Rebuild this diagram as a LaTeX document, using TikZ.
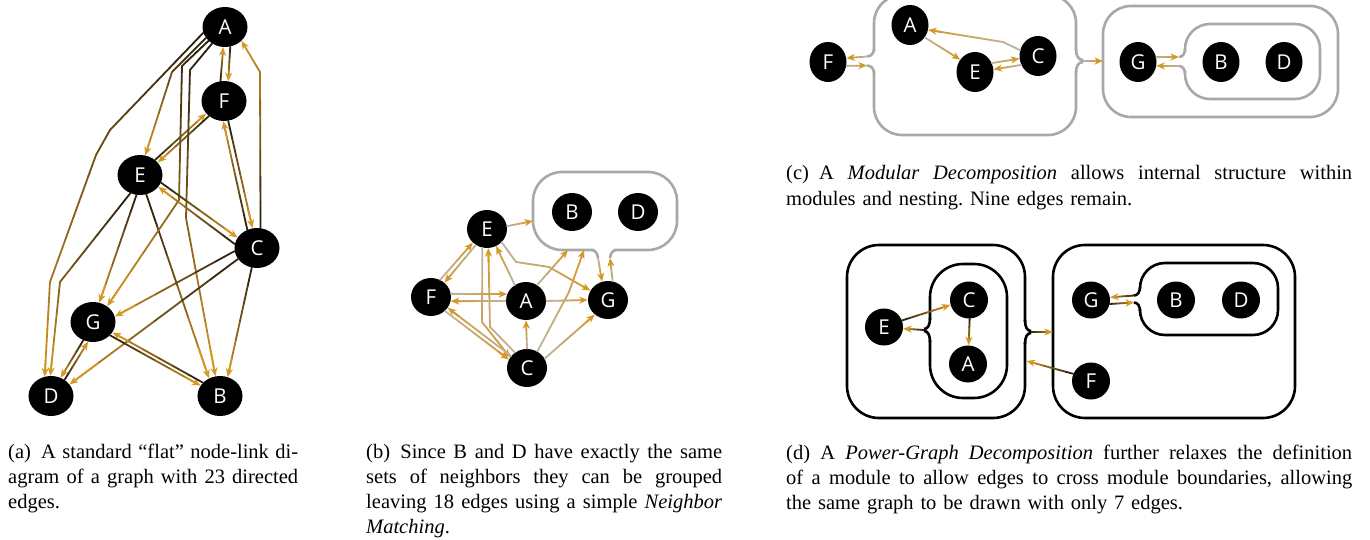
\documentclass[tikz,border=0pt]{standalone}
\usepackage{fontspec}
\setmainfont{Liberation Serif}
\newfontfamily\nodefont{Open Sans}
\usetikzlibrary{arrows.meta,calc,shapes.geometric}

\definecolor{edgegold}{RGB}{212,152,38}
\definecolor{edgedark}{RGB}{36,26,12}
\definecolor{edgegrey}{RGB}{188,180,166}
\definecolor{boxgrey}{RGB}{168,168,168}

\tikzset{
  edgeline/.style={line width=1.8pt,line cap=round},
  edgetip/.style={-{Stealth[length=8.5pt,width=7pt,inset=2.5pt]}},
  boxw/.style={line width=2.6pt},
  gnode/.style={ellipse,fill=black,inner sep=0pt,text=white,
    font=\nodefont\fontsize{20.5}{20.5}\selectfont},
  nodea/.style={gnode,minimum width=45pt,minimum height=40pt},
  nodeb/.style={gnode,minimum width=40pt,minimum height=38pt},
  nodec/.style={gnode,minimum width=37pt,minimum height=40pt},
  noded/.style={gnode,minimum width=38pt,minimum height=37pt},
  captext/.style={anchor=base west,inner sep=0pt,align=left,
    font=\fontsize{20.5}{25}\selectfont\frenchspacing},
}

% a justified caption line, as wide as \capw
\newcommand\capw{300pt}
\newcommand\jline[1]{\leavevmode\hbox to\capw{\spaceskip=\fontdimen2\font plus 1fil\relax #1}\\}

% directed edge along a polyline, shaded from colour #1 at the source to #2 at the target
\newcommand\gesub{6}
\makeatletter
\newcommand\gradedge[3]{%
  \foreach \p [count=\k] in {#3}{\path \p coordinate (gp\k);\xdef\gen{\k}}%
  \xdef\gecum{0}%
  \expandafter\xdef\csname gecum1\endcsname{0}%
  \foreach \i [remember=\i as \j (initially 1)] in {2,...,\gen}{%
    \pgfpointdiff{\pgfpointanchor{gp\j}{center}}{\pgfpointanchor{gp\i}{center}}%
    \edef\gedx{\the\pgf@x}\edef\gedy{\the\pgf@y}%
    \pgfmathsetmacro\getmp{\gecum+veclen(\gedx,\gedy)}%
    \xdef\gecum{\getmp}%
    \expandafter\xdef\csname gecum\i\endcsname{\getmp}}%
  \foreach \i [remember=\i as \j (initially 1)] in {2,...,\gen}{%
    \foreach \s in {1,...,\gesub}{%
      \pgfmathsetmacro\gta{(\s-1)/\gesub}%
      \pgfmathsetmacro\gtb{\s/\gesub}%
      \pgfmathsetmacro\gfrac{(\csname gecum\j\endcsname+(\csname gecum\i\endcsname-\csname gecum\j\endcsname)*(\s-0.5)/\gesub)/\gecum}%
      \pgfmathtruncatemacro\gfr{100*\gfrac}%
      \def\geshort{0pt}%
      \ifnum\i=\gen\relax\ifnum\s=\gesub\relax\def\geshort{5pt}\fi\fi
      \draw[color=#2!\gfr!#1,shorten >=\geshort] ($(gp\j)!\gta!(gp\i)$) -- ($(gp\j)!\gtb!(gp\i)$);}}%
  \pgfmathtruncatemacro\gpen{\gen-1}%
  \pgfmathsetmacro\gtl{1-1/\gesub}%
  \draw[color=#2,edgetip] ($(gp\gpen)!\gtl!(gp\gen)$) -- (gp\gen);%
}
\makeatother

% notch where edges leave a vertical module side: side x, centre y, tip offset, half gap, colour
\newcommand\vbump[5]{%
  \fill[white] ({#1-2.5},{#2-10}) rectangle ({#1+2.5},{#2+10});
  \draw[#5,boxw] (#1,{#2-12}) .. controls (#1,{#2-(#4)-4}) and ({#1+0.35*(#3)},{#2-(#4)}) .. ({#1+(#3)},{#2-(#4)});
  \draw[#5,boxw] (#1,{#2+12}) .. controls (#1,{#2+(#4)+4}) and ({#1+0.35*(#3)},{#2+(#4)}) .. ({#1+(#3)},{#2+(#4)});
}
% same for a horizontal side: side y, centre x, tip offset, half gap, colour
\newcommand\hbump[5]{%
  \fill[white] ({#2-10},{#1-2.5}) rectangle ({#2+10},{#1+2.5});
  \draw[#5,boxw] ({#2-12},#1) .. controls ({#2-(#4)-4},#1) and ({#2-(#4)},{#1+0.35*(#3)}) .. ({#2-(#4)},{#1+(#3)});
  \draw[#5,boxw] ({#2+12},#1) .. controls ({#2+(#4)+4},#1) and ({#2+(#4)},{#1+0.35*(#3)}) .. ({#2+(#4)},{#1+(#3)});
}

\begin{document}
\begin{tikzpicture}[x=1pt,y=-1pt]
\useasboundingbox (0,0) rectangle (1370,540);

% ---------------- (a) flat node-link diagram ----------------
\node[nodea] (aA) at (225,27) {A};
\node[nodea] (aF) at (224,101) {F};
\node[nodea] (aE) at (140,175) {E};
\node[nodea] (aC) at (257,248) {C};
\node[nodea] (aG) at (93,322) {G};
\node[nodea] (aD) at (51,396) {D};
\node[nodea] (aB) at (220,396) {B};

\begin{scope}[edgeline]
  \gradedge{edgedark}{edgegold}{(aA.-75),(aF.78)}
  \gradedge{edgedark}{edgegold}{(aF.100),(aA.-95)}
  \gradedge{edgedark}{edgegold}{(aC.80),(260,72),(aA.-40)}
  \gradedge{edgedark}{edgegold}{(aE.45),(aF.-145)}
  \gradedge{edgedark}{edgegold}{(aF.-135),(aE.35)}
  \gradedge{edgedark}{edgegold}{(aA.-150),(172,72),(aE.75)}
  \gradedge{edgedark}{edgegold}{(aA.-165),(110,130),(96,155),(50,282),(aD.108)}
  \gradedge{edgedark}{edgegold}{(aE.-118),(60,282),(aD.92)}
  \gradedge{edgedark}{edgegold}{(aE.-100),(aG.72)}
  \gradedge{edgedark}{edgegold}{(aE.-72),(aB.122)}
  \gradedge{edgedark}{edgegold}{(aA.-140),(182,66),(179,200),(aG.48)}
  \gradedge{edgedark}{edgegold}{(aA.-128),(190,70),(186,218),(aB.103)}
  \gradedge{edgedark}{edgegold}{(aE.-20),(aC.152)}
  \gradedge{edgedark}{edgegold}{(aC.170),(aE.-33)}
  \gradedge{edgedark}{edgegold}{(aF.-78),(aC.103)}
  \gradedge{edgedark}{edgegold}{(aC.118),(aF.-92)}
  \gradedge{edgedark}{edgegold}{(aC.-172),(aG.14)}
  \gradedge{edgedark}{edgegold}{(aC.-150),(aD.32)}
  \gradedge{edgedark}{edgegold}{(aC.-105),(aB.68)}
  \gradedge{edgedark}{edgegold}{(aG.-38),(aB.152)}
  \gradedge{edgedark}{edgegold}{(aB.142),(aG.-28)}
  \gradedge{edgedark}{edgegold}{(aG.-118),(aD.62)}
  \gradedge{edgedark}{edgegold}{(aD.50),(aG.-104)}
\end{scope}

% ---------------- (b) neighbour matching ----------------
\draw[boxgrey,boxw,rounded corners=29pt] (533,172) rectangle (677,250);
\hbump{250}{604}{8}{6}{boxgrey}
\coordinate (bdw) at (533,221);
\coordinate (bds1) at (568,250);
\coordinate (bds2) at (584,250);
\coordinate (bdp1) at (598,258);
\coordinate (bdp2) at (610,258);

\node[nodeb] (bE) at (487,229) {E};
\node[nodeb] (bB) at (572,212) {B};
\node[nodeb] (bD) at (638,212) {D};
\node[nodeb] (bF) at (431,297) {F};
\node[nodeb] (bA) at (526,301) {A};
\node[nodeb] (bG) at (608,300) {G};
\node[nodeb] (bC) at (527,368) {C};

\begin{scope}[edgeline]
  \gradedge{edgegrey}{edgegold}{(bE.8),(bdw)}
  \gradedge{edgegrey}{edgegold}{(bE.-42),(516,262),(549,267),(bG.152)}
  \gradedge{edgegrey}{edgegold}{(bA.125),(bE.-62)}
  \gradedge{edgegrey}{edgegold}{(bE.-104),(482,322),(bC.148)}
  \gradedge{edgegrey}{edgegold}{(bC.128),(490,327),(bE.-86)}
  \gradedge{edgegrey}{edgegold}{(bE.-125),(bF.47)}
  \gradedge{edgegrey}{edgegold}{(bF.62),(bE.-136)}
  \gradedge{edgegrey}{edgegold}{(bF.9),(bA.160)}
  \gradedge{edgegrey}{edgegold}{(bA.180),(bF.-12)}
  \gradedge{edgegrey}{edgegold}{(bF.-45),(bC.155)}
  \gradedge{edgegrey}{edgegold}{(bC.143),(bF.-33)}
  \gradedge{edgegrey}{edgegold}{(bC.90),(bA.-90)}
  \gradedge{edgegrey}{edgegold}{(bA.0),(bG.180)}
  \gradedge{edgegrey}{edgegold}{(bA.55),(bds1)}
  \gradedge{edgegrey}{edgegold}{(bC.58),(569,292),(bds2)}
  \gradedge{edgegrey}{edgegold}{(bC.28),(bG.-132)}
  \gradedge{edgegrey}{edgegold}{(bG.76),(bdp2)}
  \gradedge{edgegrey}{edgegold}{(bdp1),(bG.108)}
\end{scope}

% ---------------- (c) modular decomposition ----------------
\draw[boxgrey,boxw,rounded corners=28pt] (874,-5) rectangle (1076,135);
\draw[boxgrey,boxw,rounded corners=28pt] (1103,6) rectangle (1338,117);
\draw[boxgrey,boxw,rounded corners=25pt] (1185,24) rectangle (1320,99);
\vbump{874}{61}{-7}{4.5}{boxgrey}
\vbump{1076}{61}{7}{1}{boxgrey}
\vbump{1185}{61.5}{-6}{4.5}{boxgrey}
\coordinate (cbl1) at (867,56.5);
\coordinate (cbl2) at (867,65.5);
\coordinate (cbr) at (1083,61);
\coordinate (crw) at (1103,61);
\coordinate (cil1) at (1179,57);
\coordinate (cil2) at (1179,66);

\node[nodec] (cF) at (828,62) {F};
\node[nodec] (cA) at (910,25) {A};
\node[nodec] (cE) at (975,72) {E};
\node[nodec] (cC) at (1038,56) {C};
\node[nodec] (cG) at (1138,62) {G};
\node[nodec] (cB) at (1221,62) {B};
\node[nodec] (cD) at (1284,62) {D};

\begin{scope}[edgeline]
  \gradedge{edgegrey}{edgegold}{(cbl1),(cF.12)}
  \gradedge{edgegrey}{edgegold}{(cF.-12),(cbl2)}
  \gradedge{edgegrey}{edgegold}{(cA.-40),(cE.140)}
  \gradedge{edgegrey}{edgegold}{(cC.162),(1003,42),(cA.-15)}
  \gradedge{edgegrey}{edgegold}{(cE.28),(cC.-172)}
  \gradedge{edgegrey}{edgegold}{(cC.-152),(cE.8)}
  \gradedge{edgegrey}{edgegold}{(cbr),(crw)}
  \gradedge{edgegrey}{edgegold}{(cG.15),(cil1)}
  \gradedge{edgegrey}{edgegold}{(cil2),(cG.-12)}
\end{scope}

% ---------------- (d) power-graph decomposition ----------------
\draw[black,boxw,rounded corners=32pt] (847,245) rectangle (1025,418);
\draw[black,boxw,rounded corners=33pt] (930,264) rectangle (1007,398);
\draw[black,boxw,rounded corners=32pt] (1053,245) rectangle (1295,418);
\draw[black,boxw,rounded corners=25pt] (1140,263) rectangle (1278,335);
\vbump{1025}{332}{6}{1}{black}
\vbump{930}{330}{-6}{1}{black}
\vbump{1140}{299}{-6}{3.5}{black}
\coordinate (dol) at (1031,332);
\coordinate (dor) at (1053,332);
\coordinate (dil) at (924,330);
\coordinate (dfl) at (1026.5,361);
\coordinate (dir1) at (1134,295.5);
\coordinate (dir2) at (1134,302.5);

\node[noded] (dE) at (884,327) {E};
\node[noded] (dC) at (969,300) {C};
\node[noded] (dA) at (968,364) {A};
\node[noded] (dG) at (1091,300) {G};
\node[noded] (dB) at (1176,300) {B};
\node[noded] (dD) at (1241,300) {D};
\node[noded] (dF) at (1091,381) {F};

\begin{scope}[edgeline]
  \gradedge{edgedark}{edgegold}{(dE.20),(dC.-165)}
  \gradedge{edgedark}{edgegold}{(dC.-88),(dA.88)}
  \gradedge{edgedark}{edgegold}{(dil),(dE.-5)}
  \gradedge{edgedark}{edgegold}{(dol),(dor)}
  \gradedge{edgedark}{edgegold}{(dF.158),(dfl)}
  \gradedge{edgedark}{edgegold}{(dir1),(dG.8)}
  \gradedge{edgedark}{edgegold}{(dG.-12),(dir2)}
\end{scope}

% ---------------- captions ----------------
\node[captext,text width=290pt] (capa) at (8,458)
  {\renewcommand\capw{290pt}%
   \jline{(a)\enspace A standard “flat” node-link di-}\jline{agram of a graph with 23 directed}edges.};
\node[captext,text width=356pt] (capb) at (366,458)
  {\renewcommand\capw{356pt}%
   \jline{(b)\enspace Since B and D have exactly the same}\jline{sets of neighbors they can be grouped}\jline{leaving 18 edges using a simple \textit{Neighbor}}\textit{Matching}.};
\node[captext,text width=566pt] (capc) at (786,180)
  {\renewcommand\capw{566pt}%
   \jline{(c)\enspace A \textit{Modular Decomposition} allows internal structure within}modules and nesting. Nine edges remain.};
\node[captext,text width=566pt] (capd) at (786,459)
  {\renewcommand\capw{566pt}%
   \jline{(d)\enspace A \textit{Power-Graph Decomposition} further relaxes the definition}\jline{of a module to allow edges to cross module boundaries, allowing}the same graph to be drawn with only 7 edges.};
\end{tikzpicture}
\end{document}
